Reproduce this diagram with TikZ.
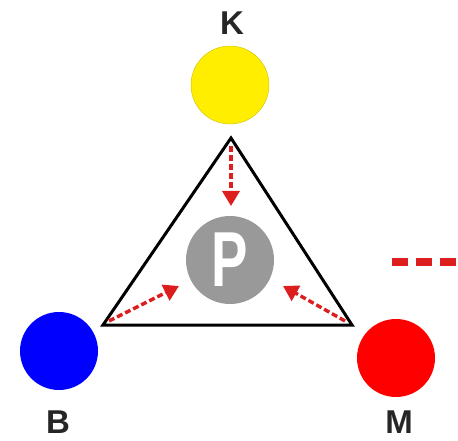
\documentclass[tikz,border=0pt]{standalone}
\usepackage{fontspec}
\setmainfont{Liberation Sans}
\usetikzlibrary{arrows.meta}
\definecolor{kyellow}{RGB}{255,238,0}
\definecolor{bblue}{RGB}{0,0,255}
\definecolor{mred}{RGB}{255,0,0}
\definecolor{arrred}{RGB}{220,30,30}
\definecolor{pgray}{RGB}{153,153,153}
\tikzset{
  dot/.style={circle, minimum size=78pt, inner sep=0pt},
  lbl/.style={font=\fontsize{33}{33}\selectfont\bfseries, text=black!85, inner sep=0pt},
  darr/.style={draw=arrred, line width=3.4pt, dash pattern=on 6pt off 3pt,
    -{Triangle[length=15pt,width=17pt,fill=arrred]}},
}
\begin{document}
\begin{tikzpicture}[x=1pt,y=-1pt]
\useasboundingbox (0,0) rectangle (458,441);
\node[lbl] (klbl) at (232,23) {K};
\node[dot, fill=kyellow, draw=kyellow!80!black, line width=0.4pt] (k) at (230,85) {};
\node[dot, fill=bblue] (b) at (59,351) {};
\node[lbl] (blbl) at (58,422) {B};
\node[dot, fill=mred] (m) at (396,358) {};
\node[lbl] (mlbl) at (399,422) {M};
\coordinate (ta) at (231,138);
\coordinate (tl) at (103,325);
\coordinate (tr) at (352,325);
\draw[line width=3pt, line join=miter] (ta) -- (tl) -- (tr) -- cycle;
\node[circle, fill=pgray, minimum size=88pt, inner sep=0pt] (p) at (230,260) {};
\node[text=white, inner sep=0pt] (pl) at (p.center) {\scalebox{0.7}[1]{\fontsize{78}{78}\selectfont\bfseries P}};
\coordinate (a1s) at (231,146);
\coordinate (a1e) at (231,206);
\coordinate (a2s) at (109,321);
\coordinate (a2e) at (179,286);
\coordinate (a3s) at (345,321);
\coordinate (a3e) at (283,286);
\draw[darr] (a1s) -- (a1e);
\draw[darr] (a2s) -- (a2e);
\draw[darr] (a3s) -- (a3e);
\coordinate (ds) at (392,262);
\coordinate (de) at (456,262);
\draw[draw=arrred, line width=8pt, dash pattern=on 16pt off 8pt] (ds) -- (de);
\end{tikzpicture}
\end{document}
